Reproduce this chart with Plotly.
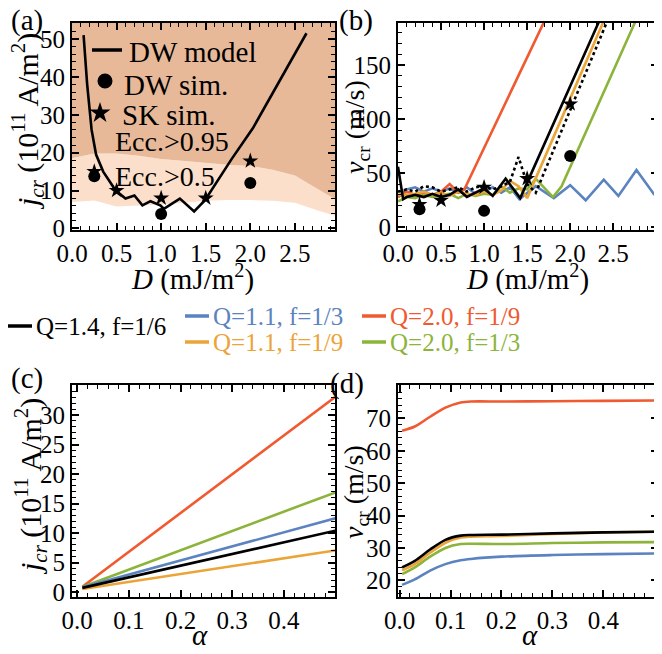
import math
import plotly.graph_objects as go

FONT = "Liberation Serif"
W, H = 662, 654
OFF = 8  # page body margin offset compensation

# ---------------- colours ----------------
C_BLACK = "#000000"
C_BLUE = "#5b83c0"
C_ORANGE = "#eba437"
C_RED = "#ef5a30"
C_GREEN = "#8cb43a"
C_DARK = "#e7b999"
C_LIGHT = "#fbdfcb"

# ---------------- panel (a) data ----------------
ecc_D = [0.0, 0.25, 0.5, 0.75, 1.0, 1.25, 1.5, 1.75, 2.0, 2.25, 2.5, 2.75, 3.0]
ecc05_low = [7.0, 7.4, 5.8, 6.0, 6.3, 6.8, 7.3, 7.5, 7.5, 7.3, 6.8, 4.8, 3.0]
ecc095_low = [18.5, 19.8, 19.8, 19.2, 18.3, 17.8, 17.3, 16.8, 16.5, 15.5, 14.0, 10.5, 7.0]
A_YMAX = 54.2

dw_model_D = [0.13, 0.17, 0.22, 0.27, 0.35, 0.49, 0.60, 0.70, 0.79, 0.88, 0.99, 1.03, 1.21, 1.37, 1.49, 1.79, 2.03, 2.63]
dw_model_j = [51.0, 38.0, 26.0, 19.5, 15.0, 10.0, 7.9, 8.7, 6.1, 7.2, 6.1, 5.2, 7.9, 4.5, 7.4, 18.3, 26.5, 51.5]

dw_sim_D = [0.25, 1.0, 2.0]
dw_sim_j = [13.8, 3.8, 12.0]
sk_sim_D = [0.25, 0.5, 1.0, 1.5, 2.0]
sk_sim_j = [15.0, 10.0, 8.0, 8.0, 17.8]

# ---------------- panel (b) data ----------------
black_D = [0.0, 0.06, 0.1, 0.2, 0.3, 0.4, 0.5, 0.6, 0.7, 0.8, 0.9, 1.0, 1.1, 1.2, 1.25, 1.42, 2.4]
black_v = [56, 26, 28, 30, 28, 31, 28, 30, 35, 28, 32, 36, 29, 40, 45, 27, 202]

dotted_D = [0.0, 0.1, 0.2, 0.3, 0.4, 0.5, 0.6, 0.7, 0.8, 0.9, 1.0, 1.1, 1.2, 1.3, 1.4, 1.5, 1.6, 2.5]
dotted_v = [33, 35, 33, 38, 37, 33, 35, 37, 33, 37, 38, 35, 38, 42, 65, 40, 32, 204]

orange_D = [0.0, 0.1, 0.2, 0.3, 0.4, 0.5, 0.6, 0.7, 0.8, 0.9, 1.0, 1.1, 1.2, 1.3, 1.4, 1.5, 2.45]
orange_v = [30, 30, 31, 33, 30, 32, 29, 33, 31, 30, 33, 30, 34, 43, 38, 27, 202]

blue_D = [0.0, 0.1, 0.2, 0.3, 0.4, 0.5, 0.6, 0.7, 0.8, 0.9, 1.0, 1.1, 1.2, 1.3, 1.41, 1.6, 1.81, 2.0, 2.18, 2.39, 2.56, 2.77, 2.98]
blue_v = [28, 35, 37, 33, 36, 33, 36, 32, 37, 31, 33, 37, 32, 37, 26, 38, 27, 39, 25, 44, 29, 53, 30]

red_D = [0.0, 0.1, 0.2, 0.3, 0.4, 0.5, 0.6, 0.7, 0.77, 1.75]
red_v = [28, 33, 30, 32, 30, 33, 40, 32, 35, 199]

green_D = [0.0, 0.1, 0.2, 0.3, 0.4, 0.5, 0.6, 0.7, 0.8, 0.9, 1.0, 1.1, 1.2, 1.3, 1.4, 1.5, 1.6, 1.8, 1.9, 2.8]
green_v = [24, 28, 27, 30, 28, 30, 31, 27, 31, 29, 31, 30, 38, 32, 36, 35, 45, 28, 38, 198]

b_dw_sim_D = [0.25, 1.0, 2.0]
b_dw_sim_v = [16.7, 15.2, 66.0]
b_sk_sim_D = [0.25, 0.5, 1.0, 1.5, 2.0]
b_sk_sim_v = [21.0, 25.0, 37.0, 45.0, 114.0]

# ---------------- panel (c) data ----------------
alpha_c = [0.01, 0.5]
jc_black = [0.7, 10.4]
jc_blue = [0.8, 12.5]
jc_orange = [0.5, 7.05]
jc_red = [0.9, 33.1]
jc_green = [0.85, 16.9]

# ---------------- panel (d) data ----------------
alpha_d = [0.005, 0.03, 0.06, 0.09, 0.12, 0.14, 0.2, 0.3, 0.4, 0.5]
vd_red = [66.2, 67.5, 70.5, 73.3, 74.9, 75.2, 75.2, 75.3, 75.4, 75.5]
vd_black = [24.0, 26.0, 29.5, 32.5, 33.8, 34.0, 34.1, 34.5, 34.8, 35.0]
vd_orange = [23.1, 25.0, 28.5, 31.6, 33.2, 33.5, 33.7, 34.3, 34.8, 35.0]
vd_green = [21.9, 24.0, 27.3, 30.0, 31.2, 31.3, 31.2, 31.5, 31.7, 31.8]
vd_blue = [18.6, 20.3, 23.0, 25.0, 26.2, 26.6, 27.3, 27.8, 28.1, 28.3]

legend_labels = ["Q=1.4, f=1/6", "Q=1.1, f=1/3", "Q=1.1, f=1/9", "Q=2.0, f=1/9", "Q=2.0, f=1/3"]
legend_colors = [C_BLACK, C_BLUE, C_ORANGE, C_RED, C_GREEN]
a_legend_labels = ["DW model", "DW sim.", "SK sim."]


def fx(px):
    return (px - OFF) / W


def fy(py):
    return 1 - (py - OFF) / H


fig = go.Figure()
LW = 2.6

# panel (a)
fig.add_trace(go.Scatter(x=ecc_D, y=ecc05_low, mode="lines", line=dict(width=0), showlegend=False, hoverinfo="skip", xaxis="x", yaxis="y"))
fig.add_trace(go.Scatter(x=ecc_D, y=ecc095_low, mode="lines", line=dict(width=0), fill="tonexty", fillcolor=C_LIGHT, showlegend=False, hoverinfo="skip", xaxis="x", yaxis="y"))
fig.add_trace(go.Scatter(x=ecc_D, y=[A_YMAX + 5] * len(ecc_D), mode="lines", line=dict(width=0), fill="tonexty", fillcolor=C_DARK, showlegend=False, hoverinfo="skip", xaxis="x", yaxis="y"))
fig.add_trace(go.Scatter(x=dw_model_D, y=dw_model_j, mode="lines", line=dict(color=C_BLACK, width=LW), name="DW model", showlegend=False, xaxis="x", yaxis="y"))
fig.add_trace(go.Scatter(x=dw_sim_D, y=dw_sim_j, mode="markers", marker=dict(symbol="circle", size=12, color=C_BLACK), name="DW sim.", showlegend=False, xaxis="x", yaxis="y"))
fig.add_trace(go.Scatter(x=sk_sim_D, y=sk_sim_j, mode="markers", marker=dict(symbol="star", size=12, color=C_BLACK), name="SK sim.", showlegend=False, xaxis="x", yaxis="y"))

# panel (b)
for D, v, c in [(blue_D, blue_v, C_BLUE), (red_D, red_v, C_RED), (green_D, green_v, C_GREEN), (orange_D, orange_v, C_ORANGE)]:
    fig.add_trace(go.Scatter(x=D, y=v, mode="lines", line=dict(color=c, width=LW), showlegend=False, xaxis="x2", yaxis="y2"))
fig.add_trace(go.Scatter(x=dotted_D, y=dotted_v, mode="lines", line=dict(color=C_BLACK, width=LW, dash="dot"), showlegend=False, xaxis="x2", yaxis="y2"))
fig.add_trace(go.Scatter(x=black_D, y=black_v, mode="lines", line=dict(color=C_BLACK, width=LW), showlegend=False, xaxis="x2", yaxis="y2"))
fig.add_trace(go.Scatter(x=b_dw_sim_D, y=b_dw_sim_v, mode="markers", marker=dict(symbol="circle", size=12, color=C_BLACK), showlegend=False, xaxis="x2", yaxis="y2"))
fig.add_trace(go.Scatter(x=b_sk_sim_D, y=b_sk_sim_v, mode="markers", marker=dict(symbol="star", size=12, color=C_BLACK), showlegend=False, xaxis="x2", yaxis="y2"))

# panel (c)
for y, c in [(jc_red, C_RED), (jc_green, C_GREEN), (jc_blue, C_BLUE), (jc_orange, C_ORANGE), (jc_black, C_BLACK)]:
    fig.add_trace(go.Scatter(x=alpha_c, y=y, mode="lines", line=dict(color=c, width=LW), showlegend=False, xaxis="x3", yaxis="y3"))

# panel (d)
for y, c in [(vd_red, C_RED), (vd_blue, C_BLUE), (vd_green, C_GREEN), (vd_orange, C_ORANGE), (vd_black, C_BLACK)]:
    fig.add_trace(go.Scatter(x=alpha_d, y=y, mode="lines", line=dict(color=c, width=LW, shape="spline", smoothing=0.8), showlegend=False, xaxis="x4", yaxis="y4"))

TICKFONT = dict(family=FONT, size=25, color="black")


def ax(domain, rng, tickvals, minor_dtick, anchor, fmt=None):
    d = dict(domain=domain, range=rng, tickmode="array", tickvals=tickvals,
             showline=True, linecolor="black", linewidth=2.2, mirror="ticks",
             ticks="inside", ticklen=7, tickwidth=1.6, tickcolor="black",
             minor=dict(ticks="inside", ticklen=4, tickwidth=1.2, tickcolor="black", tickmode="linear", tick0=0, dtick=minor_dtick),
             showgrid=False, zeroline=False, tickfont=TICKFONT, anchor=anchor, fixedrange=True, automargin=False)
    if fmt:
        d["tickformat"] = fmt
    return d


XA = [fx(72), fx(335)]
XB = [fx(398), fx(658)]
YT = [fy(230), fy(23)]
YB = [fy(597), fy(385)]

fig.update_layout(
    width=W, height=H,
    margin=dict(l=0, r=0, t=0, b=0, autoexpand=False),
    paper_bgcolor="white", plot_bgcolor="white",
    font=dict(family=FONT, color="black"),
    xaxis=ax(XA, [0, 2.95], [0, 0.5, 1.0, 1.5, 2.0, 2.5], 0.1, "y", ".1f"),
    yaxis=ax(YT, [-0.4, A_YMAX], [0, 10, 20, 30, 40, 50], 2, "x"),
    xaxis2=ax(XB, [0, 3.02], [0, 0.5, 1.0, 1.5, 2.0, 2.5], 0.1, "y2", ".1f"),
    yaxis2=ax(YT, [-2.5, 189], [0, 50, 100, 150], 10, "x2"),
    xaxis3=ax(XA, [-0.01, 0.499], [0, 0.1, 0.2, 0.3, 0.4], 0.02, "y3", ".1f"),
    yaxis3=ax(YB, [-0.85, 35.1], [0, 5, 10, 15, 20, 25, 30], 1, "x3"),
    xaxis4=ax(XB, [-0.003, 0.507], [0, 0.1, 0.2, 0.3, 0.4], 0.02, "y4", ".1f"),
    yaxis4=ax(YB, [14.85, 80.3], [20, 30, 40, 50, 60, 70], 2, "x4"),
    showlegend=False,
)

ann = []
shapes = []
# panel labels
for t, x, y in [("(a)", 27, 20), ("(b)", 356, 20), ("(c)", 27, 378), ("(d)", 347, 383)]:
    ann.append(dict(text=t, x=fx(x), y=fy(y), xref="paper", yref="paper", showarrow=False,
                    font=dict(family=FONT, size=29, color="black"), xanchor="center", yanchor="middle"))

ytitle_j = "<i>j</i><sub><i>cr</i></sub> (10<sup>11</sup> A/m<sup>2</sup>)"
ytitle_v = "<i>v</i><sub>cr</sub> (m/s)"
xtitle_D = "<i>D</i> (mJ/m<sup>2</sup>)"
for t, x, y in [(ytitle_j, 27, 122), (ytitle_j, 30, 487)]:
    ann.append(dict(text=t, x=fx(x), y=fy(y), xref="paper", yref="paper", showarrow=False,
                    font=dict(family=FONT, size=30, color="black"), textangle=-90, xanchor="center", yanchor="middle"))
for t, x, y in [(ytitle_v, 356, 127), (ytitle_v, 355, 492)]:
    ann.append(dict(text=t, x=fx(x), y=fy(y), xref="paper", yref="paper", showarrow=False,
                    font=dict(family=FONT, size=28, color="black"), textangle=-90, xanchor="center", yanchor="middle"))
for t, x, y in [(xtitle_D, 192, 277), (xtitle_D, 527, 277), ("<i>α</i>", 200, 635), ("<i>α</i>", 530, 635)]:
    ann.append(dict(text=t, x=fx(x), y=fy(y), xref="paper", yref="paper", showarrow=False,
                    font=dict(family=FONT, size=29, color="black"), xanchor="center", yanchor="middle"))

# Ecc. labels
ann.append(dict(text="Ecc.>0.95", x=0.46, y=23, xref="x", yref="y", showarrow=False, font=dict(family=FONT, size=28, color="black"), xanchor="left", yanchor="middle"))
ann.append(dict(text="Ecc.>0.5", x=0.46, y=13.6, xref="x", yref="y", showarrow=False, font=dict(family=FONT, size=28, color="black"), xanchor="left", yanchor="middle"))

# panel (a) legend: line, circle, star keys with labels
shapes.append(dict(type="line", xref="paper", yref="paper", x0=fx(92), x1=fx(122), y0=fy(50), y1=fy(50), line=dict(color=C_BLACK, width=3.5)))
cr = 7.5
shapes.append(dict(type="circle", xref="paper", yref="paper", x0=fx(105 - cr), x1=fx(105 + cr), y0=fy(81 + cr), y1=fy(81 - cr),
                   fillcolor=C_BLACK, line=dict(width=0)))
pts = []
for k in range(10):
    ang = -math.pi / 2 + k * math.pi / 5
    r = 11 if k % 2 == 0 else 4.2
    pts.append((100 + r * math.cos(ang), 113 + r * math.sin(ang)))
star_path = "M " + " L ".join(f"{fx(px):.5f},{fy(py):.5f}" for px, py in pts) + " Z"
shapes.append(dict(type="path", xref="paper", yref="paper", path=star_path, fillcolor=C_BLACK, line=dict(width=0)))
for lab, lx, ly in zip(a_legend_labels, [127, 122, 120], [52, 85, 115]):
    ann.append(dict(text=lab, x=fx(lx), y=fy(ly), xref="paper", yref="paper", showarrow=False,
                    font=dict(family=FONT, size=29, color="black"), xanchor="left", yanchor="middle"))

# bottom legend
leg_pos = [(8, 326), (185, 316), (185, 342), (362, 316), (362, 342)]
for (lx, ly), lab, col in zip(leg_pos, legend_labels, legend_colors):
    shapes.append(dict(type="line", xref="paper", yref="paper", x0=fx(lx), x1=fx(lx + 24), y0=fy(ly), y1=fy(ly), line=dict(color=col, width=3.5)))
    ann.append(dict(text=lab, x=fx(lx + 26), y=fy(ly), xref="paper", yref="paper", showarrow=False,
                    font=dict(family=FONT, size=25, color=col), xanchor="left", yanchor="middle"))

fig.update_layout(annotations=ann, shapes=shapes)
fig.write_html("out.html")
